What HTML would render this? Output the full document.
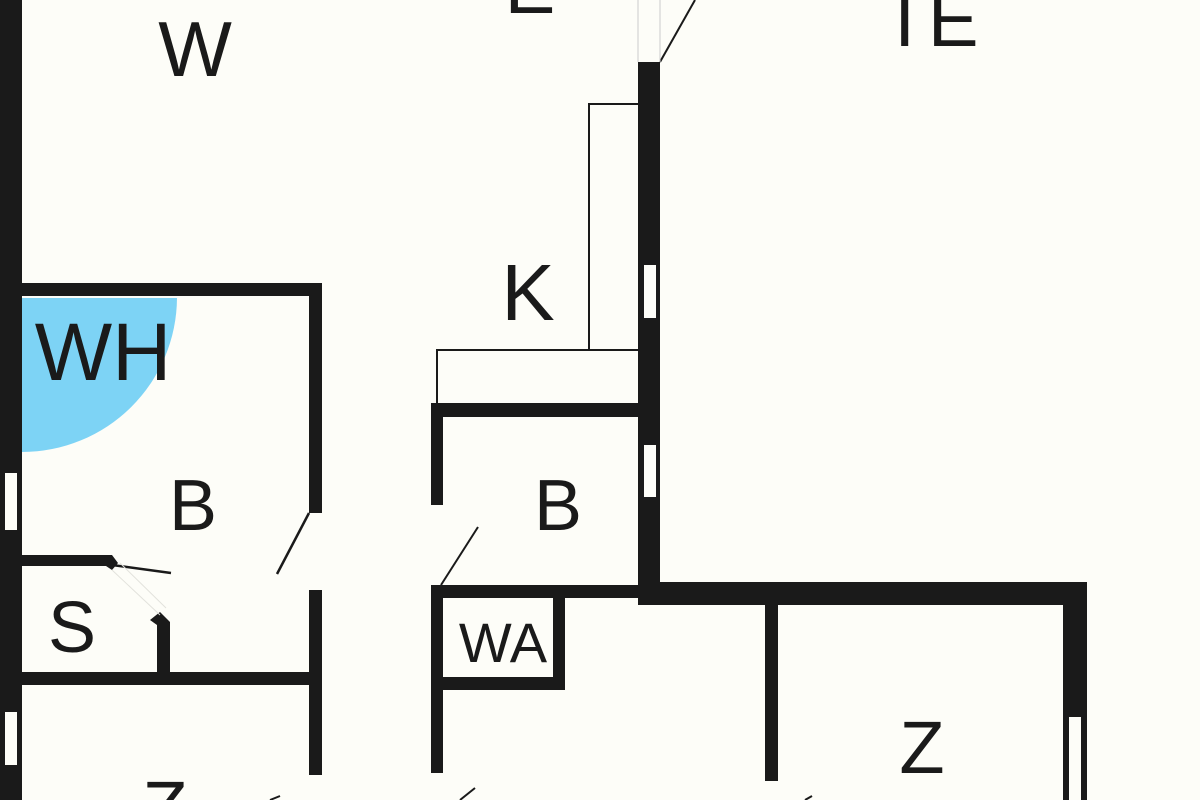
<!DOCTYPE html>
<html><head><meta charset="utf-8"><style>
html,body{margin:0;padding:0;background:#fdfdf8;width:1200px;height:800px;overflow:hidden;}
svg{display:block}
text{font-family:"Liberation Sans",sans-serif;fill:#1a1a1a;text-anchor:middle}
</style></head><body>
<svg width="1200" height="800" viewBox="0 0 1200 800" overflow="hidden">
<rect width="1200" height="800" fill="#fdfdf8"/>
<path d="M22,298 L177,298 A155,155 0 0 1 22,452 Z" fill="#7dd3f5"/>
<g fill="#1a1a1a">
<rect x="0" y="0" width="22" height="800"/>
<rect x="22" y="283" width="300" height="13"/>
<rect x="309" y="283" width="13" height="230"/>
<rect x="309" y="590" width="13" height="185"/>
<rect x="22" y="672" width="300" height="13"/>
<rect x="22" y="555" width="84" height="11"/>
<polygon points="104,555 112,555 118,563 112,570 106,566"/>
<polygon points="150,620 160,612 170,622 170,685 157,685 157,625"/>
<rect x="638" y="62" width="22" height="543"/>
<rect x="638" y="582" width="449" height="23"/>
<rect x="1063" y="582" width="24" height="218"/>
<rect x="765" y="600" width="13" height="181"/>
<rect x="431" y="403" width="209" height="14"/>
<rect x="431" y="403" width="12" height="102"/>
<rect x="431" y="585" width="209" height="13"/>
<rect x="431" y="585" width="12" height="188"/>
<rect x="553" y="585" width="12" height="105"/>
<rect x="431" y="677" width="134" height="13"/>
</g>
<g fill="#fdfdf8">
<rect x="5" y="473" width="12" height="57"/>
<rect x="5" y="712" width="12" height="53"/>
<rect x="644" y="265" width="12" height="53"/>
<rect x="644" y="445" width="12" height="52"/>
<rect x="1069" y="717" width="12" height="83"/>
</g>
<g stroke="#1a1a1a" fill="none">
<line x1="660" y1="62" x2="695" y2="0" stroke-width="2"/>
<line x1="309" y1="513" x2="277" y2="574" stroke-width="2.5"/>
<line x1="112" y1="565" x2="171" y2="573" stroke-width="2.5"/>
<line x1="441" y1="585" x2="478" y2="527" stroke-width="2"/>
<line x1="460" y1="800" x2="475" y2="788" stroke-width="2"/>
<line x1="270" y1="800" x2="280" y2="796" stroke-width="2"/>
<line x1="805" y1="800" x2="812" y2="796" stroke-width="2"/>
<rect x="589" y="104" width="50" height="246" stroke-width="2"/>
<rect x="437" y="350" width="202" height="55" stroke-width="2"/>
<line x1="638" y1="0" x2="638" y2="62" stroke="#ccc" stroke-width="1"/>
<line x1="660" y1="0" x2="660" y2="62" stroke="#ccc" stroke-width="1"/>
</g>
<g stroke="#e2e2dc" stroke-width="1" fill="none">
<polyline points="112,570 160,615"/>
<polyline points="120,563 166,608"/>
</g>
<text x="195" y="76" font-size="78">W</text>
<text x="530" y="13" font-size="76">E</text>
<text x="930" y="46" font-size="76">TE</text>
<text x="528" y="320" font-size="80">K</text>
<text x="103" y="380" font-size="82">WH</text>
<text x="193" y="530" font-size="72">B</text>
<text x="558" y="530" font-size="72">B</text>
<text x="72" y="652" font-size="72">S</text>
<text x="503" y="662" font-size="56">WA</text>
<text x="922" y="773" font-size="74">Z</text>
<text x="165" y="833" font-size="74">Z</text>
</svg>
</body></html>
